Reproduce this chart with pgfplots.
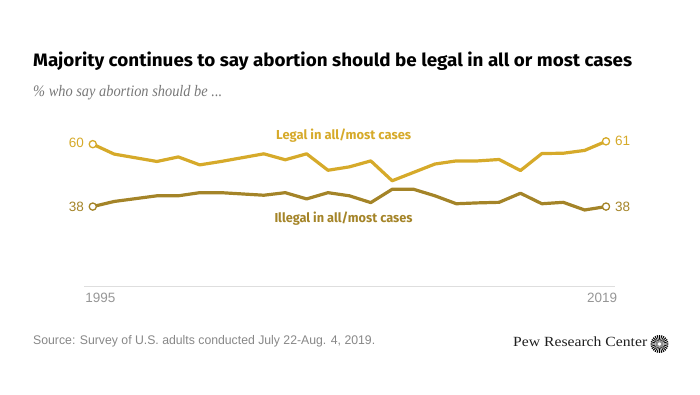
\documentclass[border=0pt]{standalone}
\usepackage{pgfplots}
\pgfplotsset{compat=1.18}
\usepackage{fontspec}
\setmainfont{Liberation Sans}
\newfontfamily\titlefont{Fira Sans}
\newfontfamily\serifface{Liberation Serif}
\newfontfamily\labfont{Fira Sans}
\definecolor{legal}{RGB}{214,170,42}
\definecolor{illegal}{RGB}{164,132,40}
\definecolor{srcgray}{RGB}{135,135,135}
\definecolor{subgray}{RGB}{120,120,120}
\definecolor{tickgray}{RGB}{150,150,150}
\definecolor{basegray}{RGB}{222,222,222}

\begin{document}
\begin{tikzpicture}[x=1pt,y=1pt]
\path[use as bounding box] (0,0) rectangle (700,394);

% title and subtitle
\node[anchor=base west, inner sep=0] at (33,327.3)
  {\resizebox{599pt}{\height}{\titlefont\bfseries\fontsize{18}{20}\selectfont Majority continues to say abortion should be legal in all or most cases}};
\node[anchor=base west, inner sep=0, text=subgray] at (33,297.3)
  {\resizebox{189pt}{\height}{\serifface\itshape\fontsize{16}{18}\selectfont \% who say abortion should be ...}};

\begin{axis}[
  at={(84pt,108pt)}, anchor=south west,
  scale only axis, width=531pt, height=170.2pt,
  xmin=1994.59, xmax=2019.42, ymin=10, ymax=70,
  axis y line=none, axis x line=bottom,
  axis line style={-},
  x axis line style={-, draw=basegray, line width=1pt},
  xtick={1995,2019},
  xticklabels={\hspace*{15pt}1995, 2019\hspace*{8pt}},
  major tick length=0pt,
  xticklabel style={font=\fontsize{13.5}{15}\selectfont, text=tickgray, inner sep=0pt, anchor=north, yshift=-7pt},
  clip=false,
]
\addplot[legal, line width=3.2pt, line join=round, mark=*, mark indices={1,22}, mark size=3.6pt,
  mark options={fill=white, draw=legal, line width=1.3pt}] coordinates {
  (1995,60) (1996,56.5) (1998,53.9) (1999,55.5) (2000,52.7) (2001,53.9)
  (2003,56.6) (2004,54.5) (2005,56.6) (2006,50.8) (2007,52) (2008,54.1)
  (2009,47.1) (2011,53) (2012,54.1) (2013,54.1) (2014,54.6) (2015,50.7)
  (2016,56.7) (2017,56.8) (2018,57.8) (2019,61)
};
\addplot[illegal, line width=3.2pt, line join=round, mark=*, mark indices={1,23}, mark size=3.6pt,
  mark options={fill=white, draw=illegal, line width=1.3pt}] coordinates {
  (1995,38) (1996,39.8) (1998,41.8) (1999,41.8) (2000,42.9) (2001,42.9)
  (2003,42) (2004,42.9) (2005,40.7) (2006,42.9) (2007,41.8) (2008,39.4)
  (2009,44.1) (2010,44.1) (2011,41.8) (2012,39) (2013,39.3) (2014,39.5)
  (2015,42.7) (2016,39) (2017,39.5) (2018,36.8) (2019,38)
};
\node[anchor=east, inner sep=0, text=legal, font=\fontsize{13.5}{15}\selectfont, xshift=-8.7pt, yshift=1.5pt] at (axis cs:1995,60) {60};
\node[anchor=east, inner sep=0, text=illegal, font=\fontsize{13.5}{15}\selectfont, xshift=-8.7pt] at (axis cs:1995,38) {38};
\node[anchor=west, inner sep=0, text=legal, font=\fontsize{13.5}{15}\selectfont, xshift=9pt] at (axis cs:2019,61) {61};
\node[anchor=west, inner sep=0, text=illegal, font=\fontsize{13.5}{15}\selectfont, xshift=9pt] at (axis cs:2019,38) {38};
\end{axis}

% series labels
\node[anchor=base west, inner sep=0, text=legal] at (276,254.7)
  {\resizebox{135pt}{\height}{\labfont\bfseries\fontsize{13}{15}\selectfont Legal in all/most cases}};
\node[anchor=base west, inner sep=0, text=illegal] at (274.3,172)
  {\resizebox{138pt}{\height}{\labfont\bfseries\fontsize{13}{15}\selectfont Illegal in all/most cases}};

% source
\node[anchor=base west, inner sep=0, text=srcgray] at (33,50)
  {\resizebox{342pt}{\height}{\fontsize{12.5}{14}\selectfont Source: Survey of U.S. adults conducted July 22-Aug. 4, 2019.}};
\node[anchor=base west, inner sep=0, text=black!88] at (513,48)
  {\resizebox{134pt}{\height}{\serifface\fontsize{14}{16}\selectfont Pew Research Center}};

% logo
\foreach \a in {0,15,...,345} {
  \fill[black] (659.5,50) ++(\a:1.6) -- ++(\a-5:7.4) -- ++(\a+95:1.3) -- cycle;
}
\fill[white] (659.5,50) circle (1.4);
\end{tikzpicture}
\end{document}
